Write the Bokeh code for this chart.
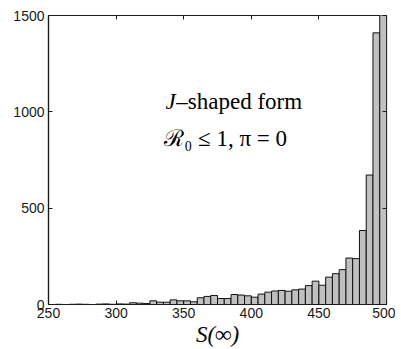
from bokeh.plotting import figure
from bokeh.models import Range1d, LinearAxis, Label, FixedTicker, CustomJSTickFormatter
from bokeh.embed import file_html
from bokeh.resources import INLINE

# Histogram of S(infinity): bin left edges (width 5) and counts
bin_left = list(range(250, 500, 5))
bin_width = 5
counts = [0, 1, 0, 1, 2, 1, 0, 2, 3, 1,
          3, 2, 9, 7, 5, 19, 12, 12, 24, 19,
          19, 14, 35, 42, 47, 31, 31, 52, 49, 45,
          38, 54, 64, 70, 73, 69, 76, 80, 98, 121,
          100, 142, 160, 181, 241, 238, 384, 672, 1410, 2050]
x_ticks = [250, 300, 350, 400, 450, 500]
y_ticks = [0, 500, 1000, 1500]

bin_right = [b + bin_width for b in bin_left]

p = figure(width=395, height=349, output_backend="svg", toolbar_location=None,
           x_range=Range1d(250, 500), y_range=Range1d(0, 1500),
           min_border_left=48, min_border_right=9, min_border_top=15, min_border_bottom=43)
p.xgrid.visible = False
p.ygrid.visible = False
p.background_fill_color = "white"
p.border_fill_color = "white"
p.outline_line_color = "#1a1a1a"
p.outline_line_width = 1.2

p.quad(left=bin_left, right=bin_right, bottom=0, top=counts,
       fill_color="#c0c0c0", line_color="#111111", line_width=1)

for ax in (p.xaxis[0], p.yaxis[0]):
    ax.major_tick_in = 4
    ax.major_tick_out = 0
    ax.minor_tick_in = 0
    ax.minor_tick_out = 0
    ax.axis_line_color = "#1a1a1a"
    ax.axis_line_width = 1.2
    ax.major_tick_line_color = "#1a1a1a"
    ax.major_label_text_font = "Liberation Sans"
    ax.major_label_text_font_size = "14px"
    ax.major_label_text_color = "#1a1a1a"
p.xaxis.ticker = FixedTicker(ticks=x_ticks)
p.yaxis.ticker = FixedTicker(ticks=y_ticks)
p.xaxis.major_label_standoff = 3
p.yaxis.major_label_standoff = 4

p.xaxis.axis_label = "S(∞)"
p.xaxis.axis_label_text_font = "Liberation Serif"
p.xaxis.axis_label_text_font_style = "italic"
p.xaxis.axis_label_text_font_size = "23px"
p.xaxis.axis_label_text_color = "black"
p.xaxis.axis_label_standoff = 1

blank = CustomJSTickFormatter(code="return ''")
rax = LinearAxis(ticker=FixedTicker(ticks=y_ticks), formatter=blank,
                 major_tick_in=4, major_tick_out=0, minor_tick_in=0, minor_tick_out=0,
                 axis_line_color=None, major_tick_line_color="#1a1a1a")
tax = LinearAxis(ticker=FixedTicker(ticks=x_ticks), formatter=blank,
                 major_tick_in=4, major_tick_out=0, minor_tick_in=0, minor_tick_out=0,
                 axis_line_color=None, major_tick_line_color="#1a1a1a")
p.add_layout(rax, "right")
p.add_layout(tax, "above")

serif = "Liberation Serif"
p.add_layout(Label(x=344, y=1052, text="J", text_font=serif, text_font_style="italic",
                   text_font_size="23px", text_align="right", text_baseline="middle",
                   text_color="black"))
p.add_layout(Label(x=344.5, y=1052, text="–shaped form", text_font=serif,
                   text_font_size="23px", text_align="left", text_baseline="middle",
                   text_color="black"))
p.add_layout(Label(x=381, y=862, text="ℛ₀ ≤ 1, π = 0", text_font=serif,
                   text_font_size="23px", text_align="center", text_baseline="middle",
                   text_color="black"))

open("out.html", "w").write(file_html(p, INLINE))
